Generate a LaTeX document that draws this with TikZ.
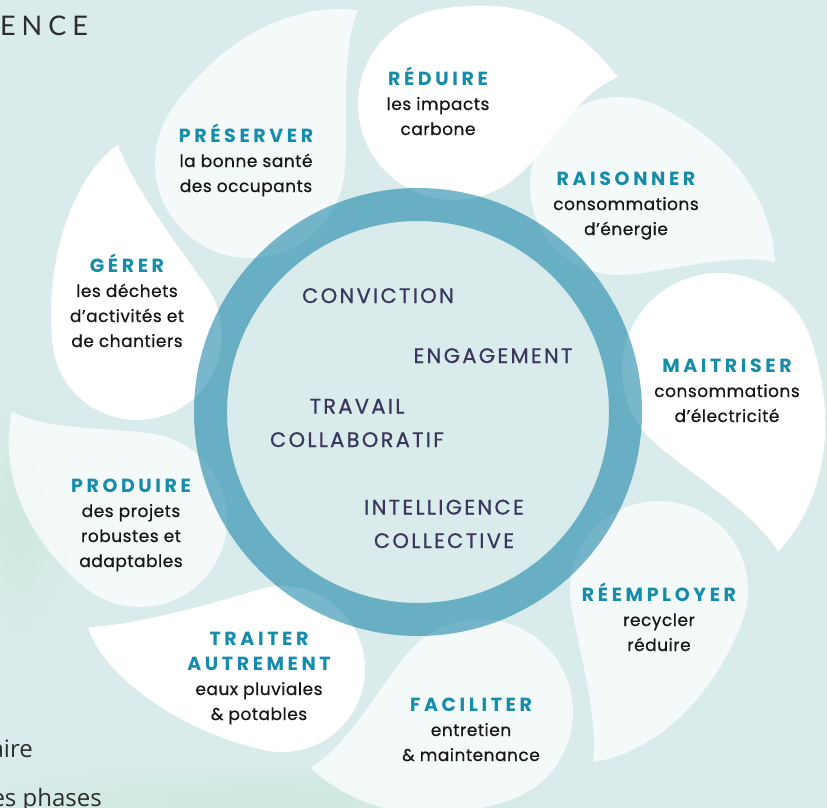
\documentclass[tikz,border=0pt]{standalone}
\usepackage{fontspec}
\setmainfont{Poppins}
\newfontfamily\ttlfont{Poppins}[LetterSpace=19]
\newfontfamily\ctrfont{Poppins}[LetterSpace=11,FakeBold=0.8]
\newfontfamily\bodyfont{Poppins}[LetterSpace=3,FakeBold=0.6]
\newfontfamily\pagefont{Open Sans}
\newfontfamily\headfont{Lato}[LetterSpace=22]
\definecolor{bgteal}{RGB}{217,235,235}
\definecolor{ringblue}{RGB}{31,135,170}
\definecolor{titleblue}{RGB}{22,140,172}
\definecolor{corenavy}{RGB}{58,55,95}
\definecolor{bodyblack}{RGB}{22,22,22}
\definecolor{pagegrey}{RGB}{45,45,45}
\definecolor{mint}{RGB}{205,232,220}
\newcommand{\petaltitle}[1]{{\ttlfont\bfseries\fontsize{19}{25}\selectfont\color{titleblue}#1}}
\begin{document}
\begin{tikzpicture}[x=1pt,y=1pt,yscale=-1,xscale=1,
  pics/drop/.style={code={\path[pic actions] (#1,0) .. controls (#1-0.3,-0.55) and (1,-1) .. (0,-1) .. controls (-0.5523,-1) and (-1,-0.5523) .. (-1,0) .. controls (-1,0.5523) and (-0.5523,1) .. (0,1) .. controls (0.1755,1) and (0.348,0.954) .. (0.5,0.866) .. controls (0.933,0.616) and (#1-0.5,0.12) .. (#1,0) -- cycle;}},
  whiteleaf/.style={fill=white},
  paleleaf/.style={fill=white,fill opacity=0.72},
  petaltext/.style={font=\bodyfont\fontsize{17}{25}\selectfont,text=bodyblack,align=center,anchor=base,inner sep=0pt},
  coretext/.style={font=\ctrfont\fontsize{21}{33.5}\selectfont,text=corenavy,align=center,anchor=base,inner sep=0pt},
  pagetext/.style={font=\pagefont\fontsize{24}{30}\selectfont,text=pagegrey,anchor=base east,inner sep=0pt}]
\useasboundingbox (0,0) rectangle (827,808);
%Background
\fill[bgteal] (0,0) rectangle (827,808);
\shade[inner color=mint,outer color=bgteal] (20,520) ellipse (55pt and 130pt);
\shade[inner color=mint,outer color=bgteal] (260,800) ellipse (320pt and 40pt);

%Petals
\pic (preserverleaf) [paleleaf,yscale=-1,rotate=-54.8,scale=95] at (250,163) {drop=1.97};
\pic (reduireleaf) [whiteleaf,yscale=-1,rotate=-9.3,scale=96] at (454,104) {drop=1.73};
\pic (raisonnerleaf) [paleleaf,yscale=-1,rotate=26,scale=89] at (619,186) {drop=1.95};
\pic (maitriserleaf) [whiteleaf,yscale=-1,rotate=72,scale=97] at (719,370) {drop=1.97};
\pic (reemployerleaf) [paleleaf,yscale=-1,rotate=111,scale=89] at (659,590) {drop=2.07};
\pic (faciliterleaf) [paleleaf,yscale=-1,rotate=161.8,scale=93] at (480,712) {drop=1.92};
\pic (traiterleaf) [whiteleaf,yscale=-1,rotate=192.2,scale=83] at (282,669) {drop=2.39};
\pic (produireleaf) [paleleaf,yscale=-1,rotate=220.2,scale=87] at (140,520) {drop=1.93};
\pic (gererleaf) [whiteleaf,yscale=-1,rotate=264.3,scale=85] at (137,335) {drop=2.25};

%Ring
\fill[bgteal] (418,412) circle (191pt);
\fill[ringblue,fill opacity=0.6,even odd rule] (418,412) circle (224pt) circle (191pt);

% Text Node
\draw (246,192) node (preserver) [petaltext] {\petaltitle{PRÉSERVER}\\la bonne santé\\des occupants};
\draw (438,135) node (reduire) [petaltext] {\petaltitle{RÉDUIRE}\\les impacts\\carbone};
\draw (626,235) node (raisonner) [petaltext] {\petaltitle{RAISONNER}\\consommations\\d’énergie};
\draw (727,422) node (maitriser) [petaltext] {\petaltitle{MAITRISER}\\consommations\\d’électricité};
\draw (659,651) node (reemployer) [petaltext] {\petaltitle{RÉEMPLOYER}\\recycler\\réduire};
\draw (471,761) node (faciliter) [petaltext] {\petaltitle{FACILITER}\\entretien\\\& maintenance};
\draw (259,720) node (traiter) [petaltext] {\petaltitle{TRAITER}\\\petaltitle{AUTREMENT}\\eaux pluviales\\\& potables};
\draw (131,567) node (produire) [petaltext] {\petaltitle{PRODUIRE}\\des projets\\robustes et\\adaptables};
\draw (127,347) node (gerer) [petaltext] {\petaltitle{GÉRER}\\les déchets\\d’activités et\\de chantiers};

% Text Node
\draw (378,303) node (conviction) [coretext] {CONVICTION};
\draw (493,363) node (engagement) [coretext] {ENGAGEMENT};
\draw (357,447) node (travail) [coretext] {TRAVAIL\\COLLABORATIF};
\draw (444,548) node (intelligence) [coretext] {INTELLIGENCE\\COLLECTIVE};

% Text Node
\draw (0,36) node (ence) [anchor=base west,inner sep=0pt,text=pagegrey,font=\headfont\fontsize{27}{30}\selectfont] {ENCE};
\draw (33,757) node (aire) [pagetext] {aire};
\draw (102,806) node (phases) [pagetext] {es phases};
\end{tikzpicture}
\end{document}
